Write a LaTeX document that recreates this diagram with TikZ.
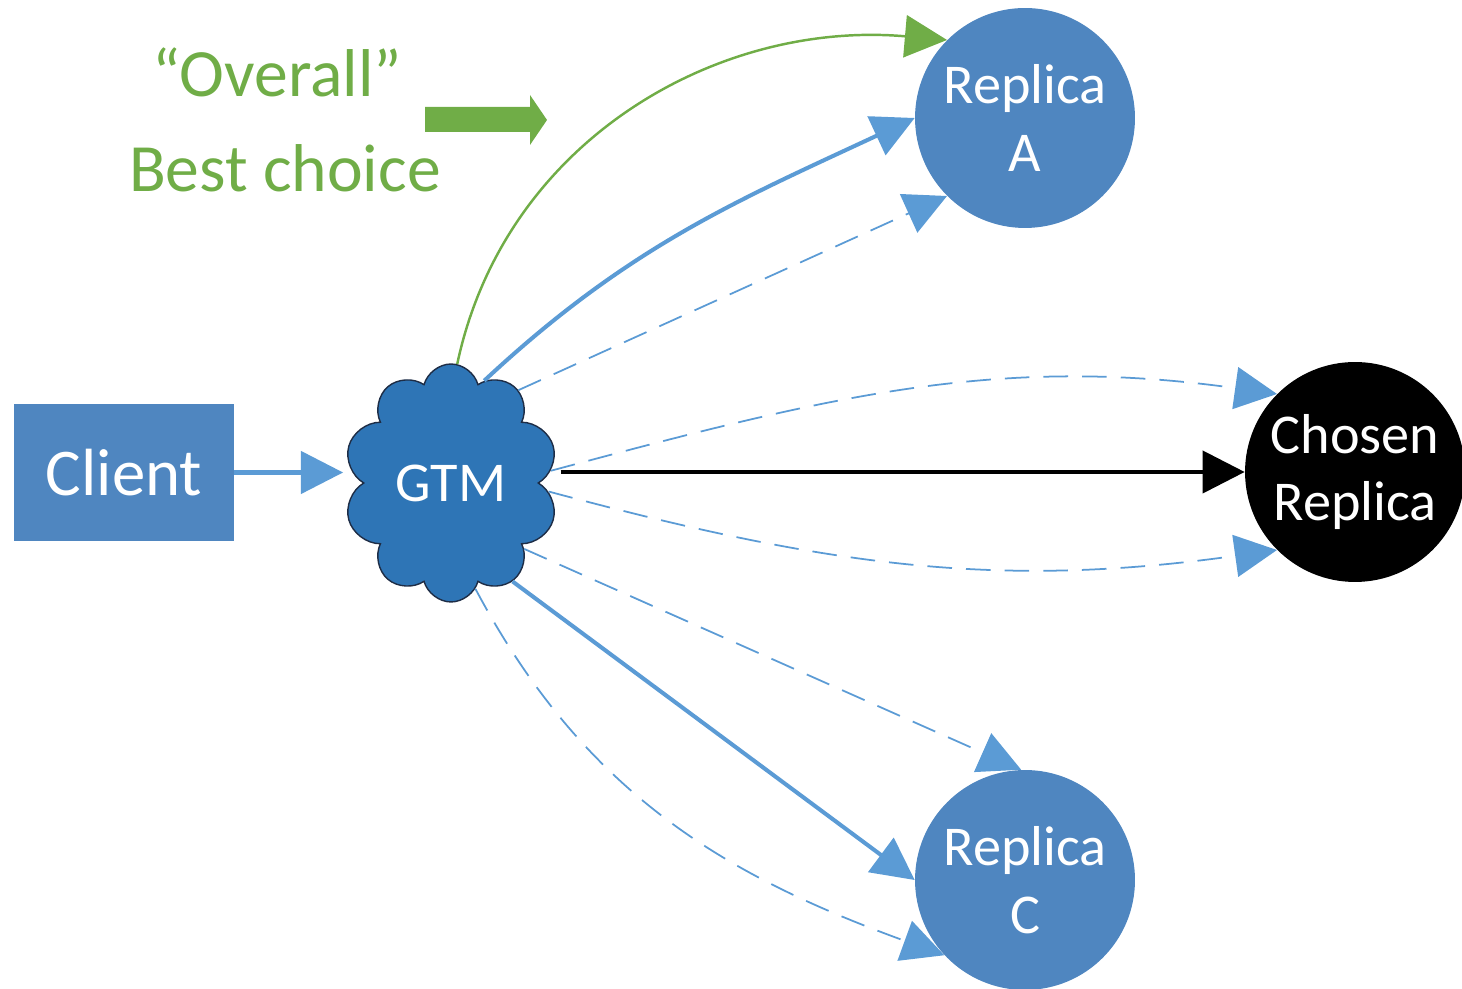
\documentclass[tikz,border=0pt]{standalone}
\usepackage{fontspec}
\setmainfont{Carlito}
\usetikzlibrary{arrows.meta,shapes.symbols}

\definecolor{nodeblue}{RGB}{79,134,192}
\definecolor{cloudblue}{RGB}{46,117,182}
\definecolor{cloudline}{RGB}{30,45,70}
\definecolor{arrowblue}{RGB}{91,155,213}
\definecolor{choicegreen}{RGB}{112,173,71}

\tikzset{
  clientbox/.style={rectangle,fill=nodeblue,text=white,minimum width=4.4cm,
    minimum height=2.74cm,font=\fontsize{38}{40}\selectfont},
  replica/.style={circle,fill=nodeblue,text=white,minimum size=4.4cm,inner sep=0pt,
    align=center,font=\fontsize{32}{38.5}\selectfont},
  gtmcloud/.style={cloud,cloud puffs=10,cloud ignores aspect,minimum width=4.3cm,
    minimum height=4.76cm,fill=cloudblue,draw=cloudline,line width=.8pt,text=white,
    font=\fontsize{32}{36}\selectfont},
  greentext/.style={text=choicegreen,font=\fontsize{38.5}{40}\selectfont},
  tip/.style={-{Triangle[length=24pt,width=24pt]}},
  link/.style={tip,arrowblue,line width=2.3pt},
  option/.style={tip,arrowblue,line width=1pt,dash pattern=on 14pt off 8pt},
  best/.style={tip,choicegreen,line width=1.4pt}
}

\begin{document}
\begin{tikzpicture}[x=0.02cm,y=0.02cm]
\useasboundingbox (0,0) rectangle (1462,989);

% nodes
\node[clientbox] (client) at (124,516.5) {Client};
\node[gtmcloud] (gtm) at (451,506) {GTM};
\node[replica] (rA) at (1025,871) {Replica\\A};
\node[replica,fill=black] (chosen) at (1355,517) {Chosen\\Replica};
\node[replica] (rC) at (1025,109) {Replica\\C};

% legend
\node[greentext] (overall) at (277,917) {“Overall”};
\node[greentext] (bestchoice) at (285,821) {Best choice};
\fill[choicegreen] (425,857) -- (530,857) -- (530,844) -- (547,869)
  -- (530,894) -- (530,882) -- (425,882) -- cycle;

% connectors
\draw[link,shorten >=11pt] (client.east) -- (client.east -| gtm.west);
\draw[link,black,shorten <=12pt] (chosen.west -| gtm.east) -- (chosen.west);
\draw[best] (gtm.87) to[out=78,in=175] (rA.135);
\draw[link] (gtm.72) to[out=43,in=205] (rA.180);
\draw[option] (gtm.54) -- (rA.225);
\draw[option] (gtm.7) to[out=15,in=172] (chosen.135);
\draw[option] (gtm.-5) to[out=-15,in=188] (chosen.225);
\draw[option] (gtm.-42) -- (rC.92);
\draw[link] (gtm.-58) -- (rC.180);
\draw[option] (gtm.-77) to[out=-62,in=160] (rC.223);
\end{tikzpicture}
\end{document}
